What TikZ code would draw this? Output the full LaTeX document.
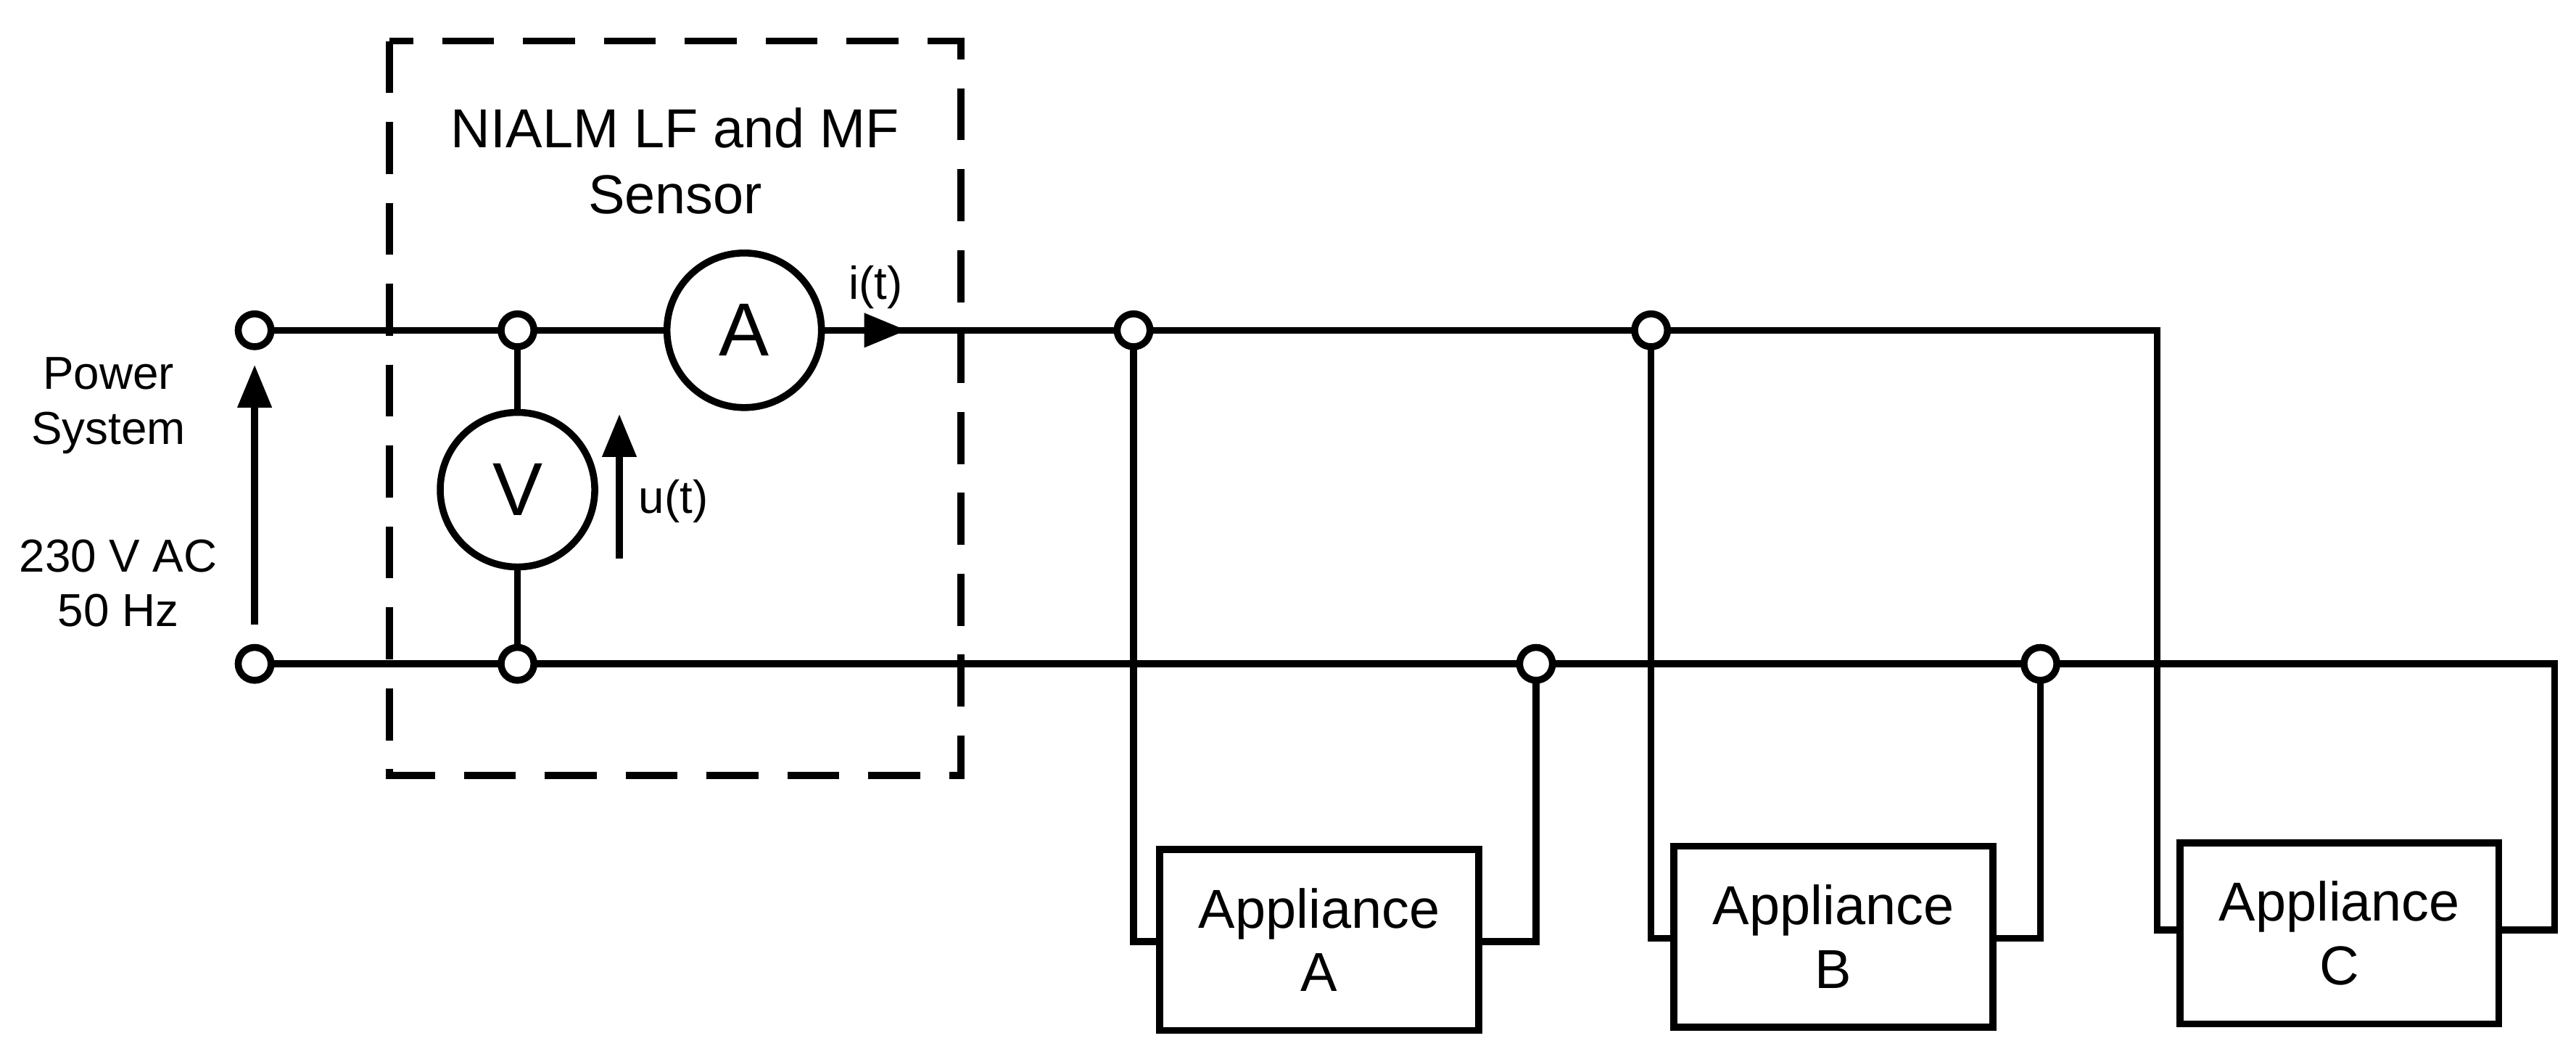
\documentclass[tikz,border=0pt]{standalone}
\usepackage{fontspec}
\setmainfont{Liberation Sans}
\usetikzlibrary{arrows.meta}
\begin{document}
\begin{tikzpicture}[x=0.01cm,y=-0.01cm,line width=1.2pt,
  term/.style={circle,draw,fill=white,inner sep=0pt,minimum size=0.2cm},
  meter/.style={circle,draw,fill=white,inner sep=0pt,minimum size=0.94cm,font=\fontsize{13}{15}\selectfont},
  app/.style={draw,fill=white,minimum width=1.94cm,minimum height=1.1cm,align=center,inner sep=0pt,font=\fontsize{9.5}{11}\selectfont},
  lbl/.style={align=center,font=\fontsize{8}{9.5}\selectfont},
  arr/.style={-{Triangle[length=0.26cm,width=0.2cm]}}]
\useasboundingbox (0,0) rectangle (1568,646);
\draw[dashed,line width=1.2pt,dash pattern=on 9pt off 5pt] (237,25) rectangle (585,472);
\node[lbl,font=\fontsize{9.5}{11.5}\selectfont] (title) at (411,98) {NIALM LF and MF\\Sensor};
\node[lbl] (ps) at (66,247) {Power\\System};
\node[lbl] (ac) at (72,355) {230 V AC\\50 Hz};
% coordinates
\coordinate (c1) at (1313,201);
\coordinate (c2) at (1555,404);
\coordinate (a1) at (690,573); \coordinate (a2) at (935,573);
\coordinate (b1) at (1005,571); \coordinate (b2) at (1242,571);
\coordinate (d1) at (1313,566); \coordinate (d2) at (1555,566);
% appliances
\node[app] (A) at (803,572) {Appliance\\A};
\node[app] (B) at (1116,570) {Appliance\\B};
\node[app] (C) at (1424,568) {Appliance\\C};
% wires
\draw (155,201) -- (c1) -- (d1) -- (C.west |- d1);
\draw (155,404) -- (c2) -- (d2) -- (C.east |- d2);
\draw (690,201) -- (a1) -- (A.west |- a1);
\draw (A.east |- a2) -- (a2) -- (935,404);
\draw (1005,201) -- (b1) -- (B.west |- b1);
\draw (B.east |- b2) -- (b2) -- (1242,404);
\draw (315,201) -- (315,404);
% meters
\node[meter] (V) at (315,298) {V};
\node[meter] (Am) at (453,201) {A};
\draw[arr] (Am.east) -- (552,201);
\node[lbl] (it) at (533,175) {i(t)};
\coordinate (u0) at (377,340); \coordinate (u1) at (377,252);
\draw[arr] (u0) -- (u1);
\node[lbl] (ut) at (410,305) {u(t)};
\coordinate (p0) at (155,380); \coordinate (p1) at (155,222);
\draw[arr] (p0) -- (p1);
% terminals
\foreach \n/\x/\y in {t1/155/201,t2/155/404,j1/315/201,j2/315/404,j3/690/201,j4/1005/201,j5/935/404,j6/1242/404}
  \node[term] (\n) at (\x,\y) {};
\end{tikzpicture}
\end{document}
